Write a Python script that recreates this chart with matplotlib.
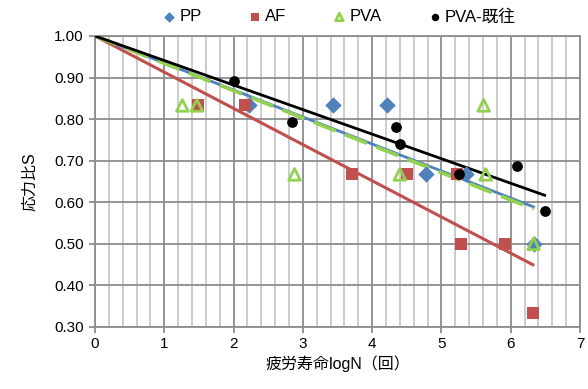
import matplotlib.pyplot as plt
import numpy as np
from matplotlib.ticker import MultipleLocator, FormatStrFormatter

plt.rcParams['font.family'] = ['Liberation Sans', 'Noto Sans CJK JP']

# data (x = logN, y = stress ratio S)
pp_x = [2.22, 3.43, 4.22, 4.78, 5.35, 6.33]
pp_y = [0.833, 0.833, 0.833, 0.667, 0.667, 0.500]
af_x = [1.48, 2.17, 3.71, 4.50, 5.23, 5.28, 5.92, 6.32]
af_y = [0.833, 0.833, 0.667, 0.667, 0.667, 0.500, 0.500, 0.333]
pva_x = [1.26, 1.47, 2.88, 4.40, 5.61, 5.64, 6.33]
pva_y = [0.833, 0.833, 0.667, 0.667, 0.833, 0.667, 0.500]
old_x = [2.01, 2.84, 4.34, 4.40, 5.25, 6.09, 6.49]
old_y = [0.892, 0.793, 0.780, 0.740, 0.669, 0.687, 0.580]

blue = '#4F81BD'
red = '#C0504D'
green = '#92D050'


def trend(x, y):
    # linear fit with intercept fixed at 1
    x = np.array(x)
    y = np.array(y)
    k = np.sum(x * (y - 1)) / np.sum(x * x)
    xs = np.array([0, x.max()])
    return xs, 1 + k * xs


fig = plt.figure(figsize=(5.88, 3.89), dpi=100)
ax = fig.add_axes([0.1616, 0.1594, 0.8248, 0.7481])

# trend lines
xs, ys = trend(af_x, af_y)
ax.plot(xs, ys, color=red, lw=2.2, zorder=3)
xs, ys = trend(pp_x, pp_y)
ax.plot(xs, ys, color=blue, lw=2.0, zorder=3)
xs, ys = trend(pva_x, pva_y)
ax.plot(xs, ys, color=green, lw=2.6, dashes=(6.5, 2.8), dash_capstyle='butt', zorder=3.1)
xs, ys = trend(old_x, old_y)
ax.plot(xs, ys, color='black', lw=2.0, zorder=3.2)

# markers
ax.scatter(pp_x, pp_y, marker='D', s=70, color=blue, zorder=4, label='PP', linewidths=0)
ax.scatter(af_x, af_y, marker='s', s=80, color=red, zorder=4, label='AF', linewidths=0)
ax.scatter(pva_x, pva_y, marker='^', s=70, facecolors='none', edgecolors=green,
           linewidths=2, zorder=5, label='PVA')
ax.scatter(old_x, old_y, marker='o', s=45, color='black', zorder=6, label='PVA-既往')

ax.set_xlim(0, 7)
ax.set_ylim(0.3, 1.0)
ax.xaxis.set_major_locator(MultipleLocator(1))
ax.xaxis.set_minor_locator(MultipleLocator(0.2))
ax.yaxis.set_major_locator(MultipleLocator(0.1))
ax.yaxis.set_major_formatter(FormatStrFormatter('%.2f'))
ax.grid(which='major', axis='both', color='#8C8C8C', lw=1.3)
ax.grid(which='minor', axis='x', color='#C8C8C8', lw=1.3)
ax.set_axisbelow(True)
for s in ax.spines.values():
    s.set_color('#8C8C8C')
    s.set_linewidth(1.3)
ax.tick_params(axis='x', which='major', length=4, color='#8C8C8C', width=1.3, labelsize=11, pad=3)
ax.tick_params(axis='x', which='minor', length=0)
ax.tick_params(axis='y', length=4, color='#8C8C8C', width=1.3, labelsize=11, pad=4)

ax.set_xlabel('疲労寿命logN（回）', fontsize=11.5, labelpad=3)
ax.set_ylabel('応力比S', fontsize=11.5, labelpad=12)

ax.legend(loc='lower center', bbox_to_anchor=(0.5, 1.0), ncol=4, frameon=False,
          fontsize=12, handletextpad=0.0, columnspacing=2.6, markerscale=0.65,
          borderaxespad=0.3, handlelength=1.2)

fig.savefig('out.png', dpi=100)
